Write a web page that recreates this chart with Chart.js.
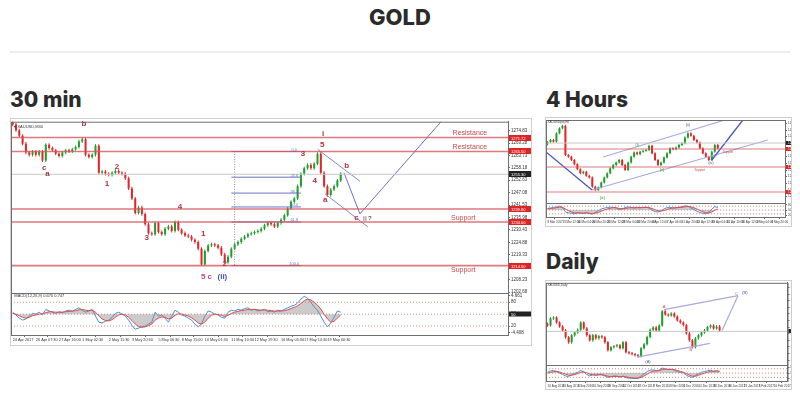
<!DOCTYPE html>
<html>
<head>
<meta charset="utf-8">
<script src="https://cdn.jsdelivr.net/npm/chart.js@4.4.1/dist/chart.umd.min.js"></script>
<style>
  body { margin: 0; width: 800px; height: 394px; position: relative; overflow: hidden; background: #fff; color: #2b2b2b; font-family: Inter, "Open Sans", sans-serif; }
  h1 { position: absolute; top: 4px; left: 0; width: 800px; margin: 0; text-align: center; font-size: 22px; line-height: 26px; font-weight: 800; }
  .rule { position: absolute; left: 10px; top: 51px; width: 780px; height: 2px; background: #eeeeee; }
  h2 { position: absolute; margin: 0; font-size: 21px; line-height: 24px; font-weight: 800; }
  canvas { position: absolute; }
</style>
</head>
<body>
<h1>GOLD</h1>
<div class="rule"></div>
<h2 style="left:10px;top:88px">30 min</h2>
<h2 style="left:546px;top:88px">4 Hours</h2>
<h2 style="left:546px;top:250px">Daily</h2>
<canvas id="m30" width="522" height="228" style="left:10px;top:118px"></canvas>
<canvas id="h4" width="247" height="110" style="left:545px;top:117px"></canvas>
<canvas id="d1" width="247" height="110" style="left:545px;top:280px"></canvas>
<script>
// ---- 30 min data ----
const m30Open0 = 1278.5;
const m30Close = [
  1277.5, 1275.0, 1272.5, 1269.0, 1265.0, 1264.0, 1265.5, 1264.0, 1265.5, 1261.5,
  1268.5, 1267.0, 1266.0, 1264.5, 1263.5, 1265.0, 1266.0, 1265.5, 1266.5, 1267.5,
  1270.0, 1271.0, 1264.0, 1263.0, 1264.0, 1268.0, 1256.0, 1256.5, 1255.5, 1255.0,
  1256.0, 1256.8, 1256.0, 1255.5, 1253.5, 1249.0, 1244.5, 1238.0, 1240.5, 1237.5,
  1233.0, 1229.0, 1228.5, 1233.5, 1229.5, 1228.5, 1231.0, 1232.0, 1230.0, 1234.0,
  1230.5, 1229.0, 1228.0, 1227.5, 1226.0, 1225.0, 1222.0, 1215.0, 1221.0, 1223.5,
  1224.0, 1223.5, 1222.5, 1219.5, 1216.0, 1218.5, 1222.0, 1224.0, 1225.0, 1226.5,
  1227.5, 1228.5, 1229.0, 1229.5, 1230.0, 1231.0, 1232.5, 1233.5, 1233.0, 1232.0,
  1233.5, 1235.0, 1237.0, 1240.0, 1243.0, 1244.5, 1250.0, 1255.5, 1258.0, 1259.5,
  1258.0, 1260.0, 1264.5, 1256.0, 1250.0, 1246.0, 1248.5, 1250.0, 1252.5, 1255.5
];
const m30Fast = [
  55, 48, 40, 35, 38, 45, 52, 50, 55, 48, 62, 58, 55, 52, 56, 54, 58, 60, 57, 62,
  66, 60, 55, 58, 62, 45, 30, 28, 32, 35, 42, 52, 55, 50, 45, 35, 22, 12, 15, 18,
  20, 25, 30, 55, 45, 48, 40, 30, 45, 60, 55, 48, 45, 40, 35, 25, 18, 25, 45, 58,
  55, 50, 48, 42, 40, 55, 60, 58, 62, 60, 64, 66, 60, 62, 58, 60, 62, 56, 58, 55,
  60, 58, 62, 66, 70, 72, 78, 88, 95, 90, 80, 68, 60, 45, 30, 18, 28, 42, 58, 55
];
const m30Slow = [
  52, 50, 46, 42, 40, 42, 46, 48, 50, 51, 54, 56, 56, 55, 55, 55, 56, 57, 58, 59,
  61, 62, 60, 59, 60, 55, 46, 38, 34, 33, 36, 42, 48, 50, 48, 42, 34, 25, 19, 17,
  18, 21, 25, 35, 40, 43, 42, 38, 40, 47, 51, 50, 48, 45, 41, 35, 28, 25, 30, 40,
  47, 50, 49, 47, 44, 47, 52, 55, 57, 59, 60, 62, 62, 62, 61, 60, 61, 60, 59, 58,
  58, 58, 59, 61, 64, 67, 71, 77, 84, 88, 86, 80, 73, 63, 50, 38, 30, 32, 40, 48
];
const m30Dates = ['24 Apr 2017', '26 Apr 07:30', '27 Apr 16:00', '1 May 02:30', '2 May 11:30', '3 May 20:30', '5 May 06:30',
  '8 May 15:00', '10 May 01:30', '11 May 10:30', '12 May 19:30', '16 May 05:30', '17 May 14:30', '19 May 00:30'];
const m30DateAt = [0, 7, 14, 21, 29, 36, 44, 51, 58, 66, 73, 81, 88, 95];
const m30PriceTicks = [1274.83, 1269.28, 1263.73, 1258.18, 1252.63, 1247.08, 1241.53, 1235.98, 1230.43, 1224.88, 1219.33, 1213.78, 1208.23, 1202.68];
const m30Levels = [1271.72, 1265.50, 1239.80, 1234.00, 1214.50];
const m30Last = 1255.30;
const m30FibLevels = [1265.5, 1254.0, 1246.9, 1240.7, 1234.0, 1214.5];
const m30FibNames = ['0.0', '23.6', '38.2', '50.0', '61.8', '100.0'];
const m30Path = [[100, 1256.0], [104.8, 1237.6], [130, 1280.0]];
const m30Upper = [[92.1, 1266.4], [104.8, 1252.2]];
const m30Lower = [[94.3, 1246.5], [107.2, 1231.8]];

// ---- 4 hour data ----
const h4Open0 = 1271.0;
const h4Close = [
  1273.6, 1276, 1274, 1284, 1290, 1293, 1258, 1256, 1252, 1247,
  1241, 1236, 1238, 1233, 1231, 1220, 1216, 1219, 1225, 1231,
  1236, 1242, 1246, 1249, 1252, 1246, 1240, 1249, 1256, 1261,
  1259, 1262, 1263, 1264, 1269, 1260, 1252, 1246, 1249, 1255,
  1260, 1266, 1265, 1267, 1270, 1272, 1279, 1284, 1281, 1276,
  1273, 1266, 1260, 1256, 1252, 1262, 1270, 1266
];
const h4Fast = [62, 66, 70, 74, 80, 70, 35, 28, 24, 20, 28, 26, 24, 30, 22, 18, 30, 45, 58, 64, 70, 72, 70, 66, 52, 58, 70, 74, 70,
  66, 70, 68, 70, 74, 66, 48, 38, 34, 44, 58, 68, 72, 66, 68, 72, 76, 82, 80, 66, 54, 40, 30, 24, 20, 34, 58, 76, 70];
const h4Slow = [58, 61, 64, 68, 72, 72, 58, 45, 35, 28, 26, 26, 25, 26, 25, 22, 24, 30, 40, 50, 58, 64, 68, 68, 62, 60, 62, 66, 68,
  68, 68, 68, 69, 70, 69, 62, 52, 44, 42, 46, 54, 62, 66, 67, 69, 71, 75, 78, 75, 68, 58, 46, 36, 28, 26, 34, 48, 58];
const h4Dates = ['8 Mar 2017', '13 Mar 12:00', '16 Mar 04:00', '20 Mar 20:00', '23 Mar 12:00', '28 Mar 04:00', '30 Mar 20:00', '4 Apr 12:00',
  '7 Apr 04:00', '11 Apr 20:00', '14 Apr 12:00', '19 Apr 04:00', '21 Apr 20:00', '26 Apr 12:00', '1 May 04:00', '3 May 20:00'];
const h4PriceTicks = [1296, 1288, 1280, 1272, 1264, 1256, 1248, 1240, 1232, 1224, 1216, 1208];
const h4Levels = [1265.2, 1243.6, 1213.6];
const h4Last = 1272.4;
const h4Down = [[-0.5, 1261.6], [14.9, 1216]];
const h4Up = [[55, 1252], [65.4, 1300]];
const h4ChanLow = [[14.9, 1216], [73.7, 1276]];
const h4ChanHigh = [[18.6, 1255.6], [59.4, 1300]];

// ---- daily data ----
const d1Open0 = 1230;
const d1Close = [
  1225, 1246, 1249, 1234, 1222, 1210, 1189, 1174, 1195, 1204,
  1212, 1234, 1216, 1195, 1180, 1195, 1186, 1192, 1189, 1174,
  1150, 1159, 1162, 1165, 1156, 1174, 1144, 1141, 1138, 1135,
  1132, 1156, 1168, 1190, 1212, 1219, 1210, 1225, 1268, 1258,
  1255, 1261, 1252, 1240, 1234, 1226, 1201, 1180, 1159, 1186,
  1195, 1204, 1210, 1220, 1225, 1216, 1222, 1210
];
const d1Fast = [55, 65, 68, 60, 50, 40, 30, 25, 40, 48, 55, 68, 58, 40, 30, 38, 35, 40, 38, 30, 20, 25, 30, 28, 22, 30, 18, 15, 14,
  12, 15, 30, 45, 60, 70, 72, 65, 70, 85, 78, 74, 76, 70, 60, 55, 50, 35, 25, 20, 35, 45, 55, 60, 66, 70, 62, 66, 60];
const d1Slow = [50, 55, 60, 62, 58, 50, 42, 34, 34, 40, 46, 55, 58, 52, 42, 38, 36, 37, 38, 35, 28, 25, 26, 27, 25, 27, 24, 20, 17,
  15, 14, 20, 30, 42, 55, 64, 66, 67, 74, 78, 76, 76, 74, 68, 62, 56, 46, 36, 28, 28, 34, 42, 50, 56, 62, 63, 64, 62];
const d1Dates = ['10 Aug 2016', '23 Aug 2016', '5 Sep 2016', '16 Sep 2016', '29 Sep 2016', '12 Oct 2016', '25 Oct 2016', '7 Nov 2016',
  '18 Nov 2016', '1 Dec 2016', '14 Dec 2016', '28 Dec 2016', '10 Jan 2017', '23 Jan 2017', '3 Feb 2017', '16 Feb 2017'];
const d1PriceTicks = [1340, 1320, 1300, 1280, 1260, 1240, 1220, 1200, 1180, 1160, 1140, 1120];
const d1Last = 1207;
const d1Upper = [[38.6, 1273], [63.1, 1315]];
const d1Lower = [[29.6, 1129], [53.8, 1171]];
const d1Path = [[57.8, 1210], [63.1, 1315]];

const UP = '#1f9e2c', DOWN = '#e0262a';
const RED_LINE = 'rgba(214,88,92,0.8)';
const WICK = 0.7;

function candles(open0, closes, wick, bodyW) {
  const opens = closes.map((c, i) => (i ? closes[i - 1] : open0));
  const colors = closes.map((c, i) => (c >= opens[i] ? UP : DOWN));
  return [
    { type: 'bar', data: closes.map((c, i) => ({ x: i, y: [Math.min(opens[i], c) - wick, Math.max(opens[i], c) + wick] })),
      backgroundColor: colors, maxBarThickness: 1, grouped: false, yAxisID: 'y', order: 3 },
    { type: 'bar', data: closes.map((c, i) => ({ x: i, y: [opens[i], c] })),
      backgroundColor: colors, maxBarThickness: bodyW, grouped: false, yAxisID: 'y', order: 2 }
  ];
}

function seg(points, color, width, dash, axis) {
  return { type: 'line', data: points.map(p => ({ x: p[0], y: p[1] })), borderColor: color, borderWidth: width,
    borderDash: dash || [], pointRadius: 0, yAxisID: axis || 'y', fill: false, order: 1 };
}

function osc(values, color, fill) {
  return { type: 'line', data: values.map((v, i) => ({ x: i, y: v })), borderColor: color, borderWidth: 1, pointRadius: 0,
    yAxisID: 'y2', fill: fill ? { value: 50 } : false, backgroundColor: 'rgba(140,140,140,0.45)', order: 1 };
}

// frames, text labels and axis tags, placed through the scales
const decor = {
  id: 'decor',
  afterDraw(chart, args, opts) {
    const { ctx, chartArea: a, scales } = chart;
    ctx.save();
    ctx.strokeStyle = '#6f6f6f';
    ctx.lineWidth = 1;
    ctx.strokeRect(a.left + 0.5, a.top + 0.5, a.width, a.height);
    ctx.beginPath();
    ctx.moveTo(a.left, Math.round(scales.y2.top) + 0.5);
    ctx.lineTo(a.right, Math.round(scales.y2.top) + 0.5);
    ctx.stroke();
    ctx.strokeStyle = '#cfcfcf';
    ctx.strokeRect(0.5, 0.5, chart.width - 1, chart.height - 1);
    ctx.textBaseline = 'middle';
    (opts.texts || []).forEach(t => {
      ctx.fillStyle = t.color;
      ctx.font = t.font;
      ctx.textAlign = t.align || 'center';
      ctx.fillText(t.text, scales.x.getPixelForValue(t.x), scales[t.axis || 'y'].getPixelForValue(t.y));
    });
    (opts.tags || []).forEach(g => {
      const sc = scales[g.axis || 'y'];
      const py = Math.round(sc.getPixelForValue(g.y));
      ctx.fillStyle = g.bg;
      ctx.fillRect(a.right + 1, py - g.h / 2, chart.width - a.right - 2, g.h);
      ctx.fillStyle = '#fff';
      ctx.font = g.font;
      ctx.textAlign = 'left';
      ctx.fillText(g.text, a.right + 3, py + 0.5);
    });
    ctx.restore();
  }
};

function build(id, cfg) {
  const levelSets = cfg.levels.map(v => seg([[cfg.xMin, v], [cfg.xMax, v]], RED_LINE, cfg.levelW));
  const lastSet = seg([[cfg.xMin, cfg.last], [cfg.xMax, cfg.last]], '#c8c8c8', 1);
  const oscLines = [20, 50, 80].map(v => seg([[cfg.xMin, v], [cfg.xMax, v]], '#d36a6a', 0.8, [1, 2], 'y2'));
  const tickFont = { size: cfg.tickSize, family: 'Arial, "Liberation Sans", sans-serif' };
  const dateFont = { size: cfg.dateSize, family: 'Arial, "Liberation Sans", sans-serif' };
  return new Chart(document.getElementById(id), {
    type: 'bar',
    data: {
      datasets: [
        ...candles(cfg.open0, cfg.closes, cfg.wick, cfg.bodyW),
        ...levelSets, lastSet, ...cfg.extra, ...oscLines,
        osc(cfg.slow, '#e24a4a', true),
        osc(cfg.fast, '#3d8fe0', false)
      ]
    },
    options: {
      responsive: false,
      animation: false,
      events: [],
      layout: { padding: cfg.pad },
      plugins: {
        legend: { display: false },
        tooltip: { enabled: false },
        decor: { texts: cfg.texts, tags: cfg.tags }
      },
      scales: {
        x: {
          type: 'linear', min: cfg.xMin, max: cfg.xMax, offset: false,
          grid: { drawOnChartArea: false, tickLength: 2, color: '#666' },
          border: { color: '#666' },
          afterBuildTicks: s => { s.ticks = cfg.dateAt.map(v => ({ value: v })); },
          afterFit: s => { s.height = cfg.xH; },
          ticks: { autoSkip: false, maxRotation: 0, align: 'start', padding: 1, color: '#333', font: dateFont,
            callback: v => cfg.dates[cfg.dateAt.indexOf(v)] }
        },
        y: {
          position: 'right', stack: 'p', stackWeight: cfg.weights[0], min: cfg.yMin, max: cfg.yMax,
          grid: { drawOnChartArea: false, tickLength: 2, color: '#666' },
          border: { color: '#666' },
          afterBuildTicks: s => { s.ticks = cfg.priceTicks.map(v => ({ value: v })); },
          afterFit: s => { s.width = cfg.yW; },
          ticks: { autoSkip: false, padding: 1, color: '#333', font: tickFont, callback: v => v.toFixed(2) }
        },
        y2: {
          position: 'right', stack: 'p', stackWeight: cfg.weights[1], min: cfg.oMin, max: cfg.oMax,
          grid: { drawOnChartArea: false, tickLength: 2, color: '#666' },
          border: { color: '#666' },
          afterBuildTicks: s => { s.ticks = cfg.oTicks.map(v => ({ value: v })); },
          afterFit: s => { s.width = cfg.yW; },
          ticks: { autoSkip: false, padding: 1, color: '#333', font: tickFont,
            callback: v => cfg.oNames[cfg.oTicks.indexOf(v)] }
        }
      }
    },
    plugins: [decor]
  });
}

const WAVE = 'bold 8px Arial, "Liberation Sans", sans-serif';
const BLUE = '#6c74c6';

build('m30', {
  open0: m30Open0, closes: m30Close, fast: m30Fast, slow: m30Slow, wick: WICK, bodyW: 2,
  xMin: -0.5, xMax: 149.5, yMin: 1202.1, yMax: 1278.8, oMin: -2.5, oMax: 102.5,
  weights: [173, 42], pad: { left: 1, top: 2, right: 0, bottom: 0 }, xH: 11, yW: 24, tickSize: 4.5, dateSize: 3.8,
  dates: m30Dates, dateAt: m30DateAt, priceTicks: m30PriceTicks,
  oTicks: [97, 80, 50, 20, 3], oNames: ['4.661', '80', '50', '20', '-4.408'],
  levels: m30Levels, levelW: 1.6, last: m30Last,
  extra: [
    ...m30FibLevels.map(v => seg([[66, v], [87, v]], BLUE, 1)),
    seg([[67, m30FibLevels[0]], [67, m30FibLevels[5]]], '#8a8a8a', 1, [1, 1.5]),
    seg(m30Path, '#6a70c4', 1), seg(m30Upper, '#7f86cc', 1), seg(m30Lower, '#7f86cc', 1)
  ],
  texts: [
    { text: '\u25BE XAUUSD,M30', x: 0.5, y: 1276.6, color: '#333', font: '4px Arial', align: 'left' },
    { text: 'MACD(12,26,9) 0.670 0.747', x: 0.5, y: 97, axis: 'y2', color: '#333', font: '4px Arial', align: 'left' },
    ...m30FibLevels.map((v, i) => ({ text: m30FibNames[i], x: 85, y: v + 0.7, color: BLUE, font: '4px Arial' })),
    { text: 'Resistance', x: 138, y: 1273.6, color: '#c94a4a', font: '7px Arial' },
    { text: 'Resistance', x: 138, y: 1267.4, color: '#c94a4a', font: '7px Arial' },
    { text: 'Support', x: 136, y: 1235.6, color: '#c94a4a', font: '7px Arial' },
    { text: 'Support', x: 136, y: 1212.3, color: '#c94a4a', font: '7px Arial' },
    { text: 'b', x: 21.5, y: 1277.7, color: '#9b3b4a', font: WAVE },
    { text: 'c', x: 9.5, y: 1258.0, color: '#9b3b4a', font: WAVE },
    { text: 'a', x: 10.5, y: 1255.6, color: '#9b3b4a', font: WAVE },
    { text: '1', x: 28.5, y: 1251.0, color: '#9b3b4a', font: WAVE },
    { text: '2', x: 31.5, y: 1258.6, color: '#9b3b4a', font: WAVE },
    { text: '3', x: 40.5, y: 1226.9, color: '#9b3b4a', font: WAVE },
    { text: '4', x: 50.5, y: 1240.6, color: '#9b3b4a', font: WAVE },
    { text: '1', x: 57.5, y: 1228.7, color: '#b03048', font: WAVE },
    { text: '2', x: 64, y: 1215.4, color: '#b03048', font: WAVE },
    { text: '5 c', x: 58.5, y: 1209.5, color: '#c04a78', font: WAVE },
    { text: '(ii)', x: 63.3, y: 1209.5, color: '#3e55b5', font: WAVE },
    { text: '3', x: 87.6, y: 1264.6, color: '#b03048', font: WAVE },
    { text: '4', x: 91.2, y: 1252.6, color: '#b03048', font: WAVE },
    { text: '5', x: 93.4, y: 1268.5, color: '#b03048', font: WAVE },
    { text: 'i', x: 93.7, y: 1273.4, color: '#8a4a2a', font: WAVE },
    { text: 'a', x: 94.3, y: 1243.8, color: '#b03048', font: WAVE },
    { text: 'b', x: 100.8, y: 1258.9, color: '#b03048', font: WAVE },
    { text: 'c', x: 103.8, y: 1235.8, color: '#b03048', font: WAVE },
    { text: 'ii', x: 106.3, y: 1235.4, color: '#999', font: WAVE },
    { text: '?', x: 107.8, y: 1235.8, color: '#555', font: 'bold 6px Arial' }
  ],
  tags: [
    ...m30Levels.map(v => ({ y: v, text: v.toFixed(2), bg: '#e02424', h: 6, font: '4px Arial' })),
    { y: m30Last, text: m30Last.toFixed(2), bg: '#222', h: 6, font: '4px Arial' },
    { y: 50, axis: 'y2', text: '50', bg: '#222', h: 5, font: '4px Arial' }
  ]
});

build('h4', {
  open0: h4Open0, closes: h4Close, fast: h4Fast, slow: h4Slow, wick: 1.2, bodyW: 2,
  xMin: -0.5, xMax: 79.5, yMin: 1200.4, yMax: 1300, oMin: -5, oMax: 105,
  weights: [83, 14], pad: { left: 1, top: 3, right: 0, bottom: 0 }, xH: 10, yW: 7, tickSize: 3, dateSize: 3,
  dates: h4Dates, dateAt: h4Dates.map((d, i) => i * 5), priceTicks: h4PriceTicks,
  oTicks: [90, 50, 10], oNames: ['80', '50', '20'],
  levels: h4Levels, levelW: 1.2, last: h4Last,
  extra: [
    seg(h4Down, '#4b55b8', 1.3), seg(h4Up, '#4b55b8', 1.3),
    seg(h4ChanLow, '#a7acdb', 1.2), seg(h4ChanHigh, '#a7acdb', 1.2)
  ],
  texts: [
    { text: 'XAUUSDpro,H4', x: 0, y: 1297, color: '#333', font: '3px Arial', align: 'left' },
    { text: 'Support', x: 60.4, y: 1261.6, color: '#c94a4a', font: '3px Arial' },
    { text: 'Support', x: 51, y: 1240, color: '#c94a4a', font: '3px Arial' },
    { text: '(ii)', x: 47, y: 1294, color: '#3e55b5', font: '4px Arial' },
    { text: '[i]', x: 30, y: 1270, color: '#3a9a3a', font: '4px Arial' },
    { text: '[ii]', x: 38.3, y: 1240, color: '#3a9a3a', font: '4px Arial' },
    { text: '[iii]', x: 18.3, y: 1207, color: '#3a9a3a', font: '4px Arial' },
    { text: '(iv)', x: 54.7, y: 1248, color: '#3e55b5', font: '4px Arial' }
  ],
  tags: [
    ...h4Levels.map(v => ({ y: v, text: v.toFixed(1), bg: '#e02424', h: 4, font: '3px Arial' })),
    { y: h4Last, text: h4Last.toFixed(1), bg: '#222', h: 4, font: '3px Arial' }
  ]
});

build('d1', {
  open0: d1Open0, closes: d1Close, fast: d1Fast, slow: d1Slow, wick: 4, bodyW: 2,
  xMin: -0.5, xMax: 79.5, yMin: 1105, yMax: 1354, oMin: -5, oMax: 105,
  weights: [83, 16], pad: { left: 1, top: 2, right: 0, bottom: 0 }, xH: 9, yW: 4, tickSize: 3, dateSize: 3,
  dates: d1Dates, dateAt: d1Dates.map((d, i) => i * 5), priceTicks: d1PriceTicks,
  oTicks: [90, 50, 10], oNames: ['80', '50', '20'],
  levels: [], levelW: 1, last: d1Last,
  extra: [seg(d1Upper, '#a7acdb', 1.2), seg(d1Lower, '#a7acdb', 1.2), seg(d1Path, '#a7acdb', 1.2)],
  texts: [
    { text: 'XAUUSD,Daily', x: 0, y: 1348, color: '#333', font: '3px Arial', align: 'left' },
    { text: '(A)', x: 33.3, y: 1114, color: '#3e55b5', font: '4px Arial' },
    { text: 'A', x: 38.6, y: 1282, color: '#c94a4a', font: '4px Arial' },
    { text: 'B', x: 47.5, y: 1150, color: '#c94a4a', font: '4px Arial' },
    { text: 'C', x: 62.7, y: 1321, color: '#c94a4a', font: '4px Arial' },
    { text: '(B)', x: 65.4, y: 1324, color: '#3e55b5', font: '4px Arial' }
  ],
  tags: [{ y: d1Last, text: '1207', bg: '#222', h: 4, font: '3px Arial' }]
});
</script>
</body>
</html>
